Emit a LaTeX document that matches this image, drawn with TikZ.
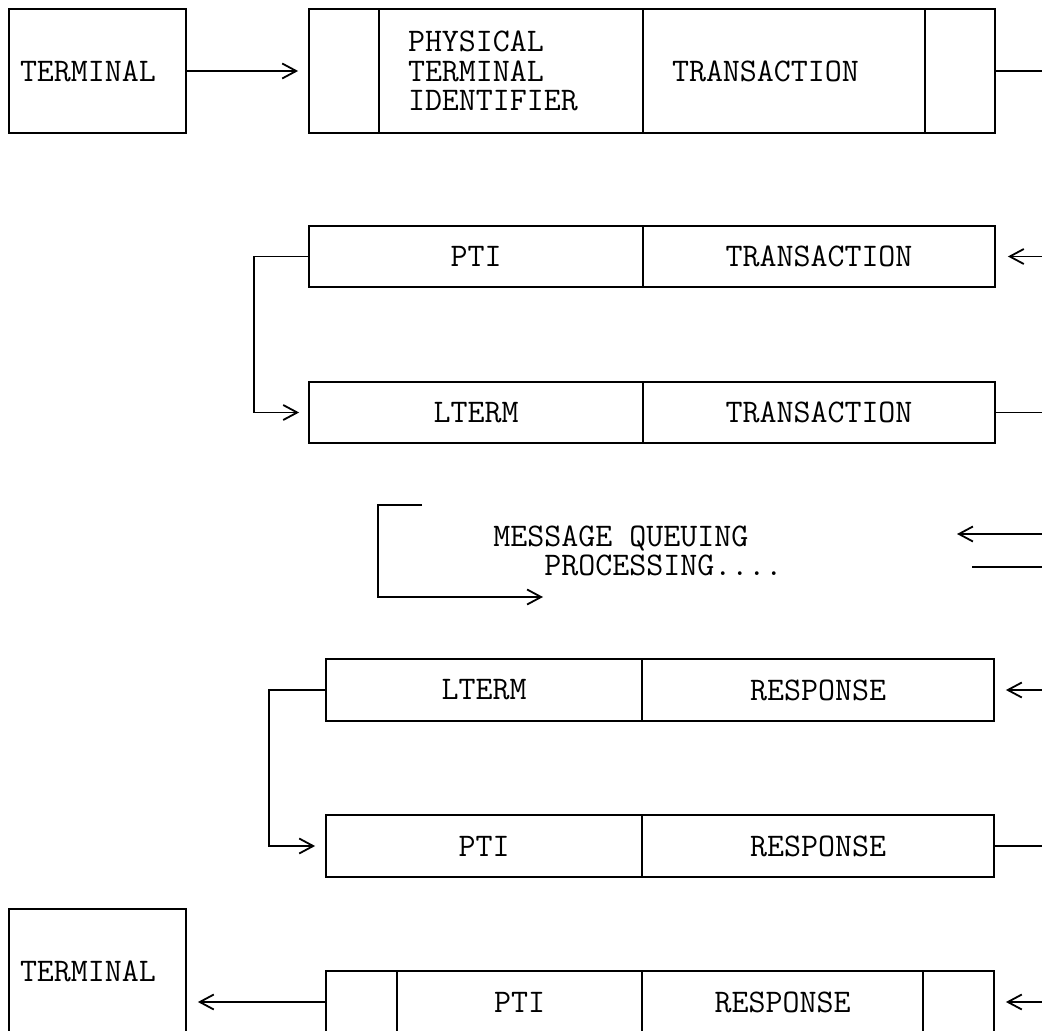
\documentclass[tikz,border=0pt]{standalone}
\usepackage{fontspec}
\usetikzlibrary{arrows.meta}

\begin{document}
\begin{tikzpicture}[
    x=0.5pt, y=-0.5pt,
    cell/.style={draw, line width=0.9pt, inner sep=0pt, minimum height=30.5pt, align=center, font=\ttfamily\fontsize{16.5}{14.6}\selectfont},
    tall/.style={cell, minimum height=62pt},
    txt/.style={inner sep=0pt, align=left, font=\ttfamily\fontsize{16.5}{14.6}\selectfont},
    arr/.style={-{Straight Barb[length=7pt, width=7.5pt]}, line width=0.9pt},
    ln/.style={line width=0.9pt}
]
\useasboundingbox (0,0) rectangle (1042,1031);
\clip (0,0) rectangle (1042,1031);

% incoming transaction
\node[tall, minimum width=88.5pt, text width=77.5pt, inner xsep=5.5pt, align=left] (term1) at (97.5,71) {TERMINAL};
\node[tall, minimum width=35pt]  (c1a) at (344,71)   {};
\node[tall, minimum width=132pt, text width=103pt, inner xsep=14.5pt, align=left] (c1b) at (511,71) {PHYSICAL\\TERMINAL\\IDENTIFIER};
\node[tall, minimum width=141pt, text width=112pt, inner xsep=14.5pt, align=left] (c1c) at (784,71) {TRANSACTION};
\node[tall, minimum width=35pt]  (c1d) at (960,71)   {};

\node[cell, minimum width=167pt] (r2a) at (476,256.5) {PTI};
\node[cell, minimum width=176pt] (r2b) at (819,256.5) {TRANSACTION};
\node[cell, minimum width=167pt] (r3a) at (476,412.5) {LTERM};
\node[cell, minimum width=176pt] (r3b) at (819,412.5) {TRANSACTION};

% queue
\node[txt, anchor=west] (mq) at (493,551) {MESSAGE QUEUING\\\phantom{MMM}PROCESSING....};

% response
\node[cell, minimum width=158pt, minimum height=31pt] (r4a) at (484,690) {LTERM};
\node[cell, minimum width=176pt, minimum height=31pt] (r4b) at (818,690) {RESPONSE};
\node[cell, minimum width=158pt, minimum height=31pt] (r5a) at (484,846) {PTI};
\node[cell, minimum width=176pt, minimum height=31pt] (r5b) at (818,846) {RESPONSE};

\node[cell, minimum width=35.5pt, minimum height=31pt]  (r6a) at (361.5,1002) {};
\node[cell, minimum width=122.5pt, minimum height=31pt] (r6b) at (519.5,1002) {PTI};
\node[cell, minimum width=140.5pt, minimum height=31pt] (r6c) at (782.5,1002) {RESPONSE};
\node[cell, minimum width=35.5pt, minimum height=31pt]  (r6d) at (958.5,1002) {};
\node[tall, minimum width=88.5pt, text width=77.5pt, inner xsep=5.5pt, align=left] (term2) at (97.5,971) {TERMINAL};

% loose ends at the right margin
\coordinate (e1)   at (1042,71);
\coordinate (e2)   at (1042,256.5);
\coordinate (e3)   at (1042,412.5);
\coordinate (qin)  at (1042,534);
\coordinate (qtip) at (957,534);
\coordinate (qout) at (972,567);
\coordinate (qend) at (1042,567);
\coordinate (e4)   at (1042,690);
\coordinate (e5)   at (1042,846);
\coordinate (e6)   at (1042,1002);
\coordinate (mtop) at (422,505);
\coordinate (mend) at (543,597);

\draw[arr, shorten >=5pt] (term1) -- (c1a);
\draw[ln] (c1d) -- (e1);
\draw[arr, shorten >=6pt] (e2) -- (r2b);
\draw[arr, shorten >=4.5pt] (r2a.west) -- ++(-54,0) |- (r3a.west);
\draw[ln] (r3b) -- (e3);

\draw[arr] (mtop) -- ++(-44,0) |- (mend);
\draw[arr] (qin) -- (qtip);
\draw[ln] (qout) -- (qend);

\draw[arr, shorten >=5.5pt] (e4) -- (r4b);
\draw[arr, shorten >=5pt] (r4a.west) -- ++(-56,0) |- (r5a.west);
\draw[ln] (r5b) -- (e5);
\draw[arr, shorten >=5.5pt] (e6) -- (r6d);
\draw[arr, shorten >=5.5pt] (r6a.west) -- (term2.east |- r6a.west);
\end{tikzpicture}
\end{document}
